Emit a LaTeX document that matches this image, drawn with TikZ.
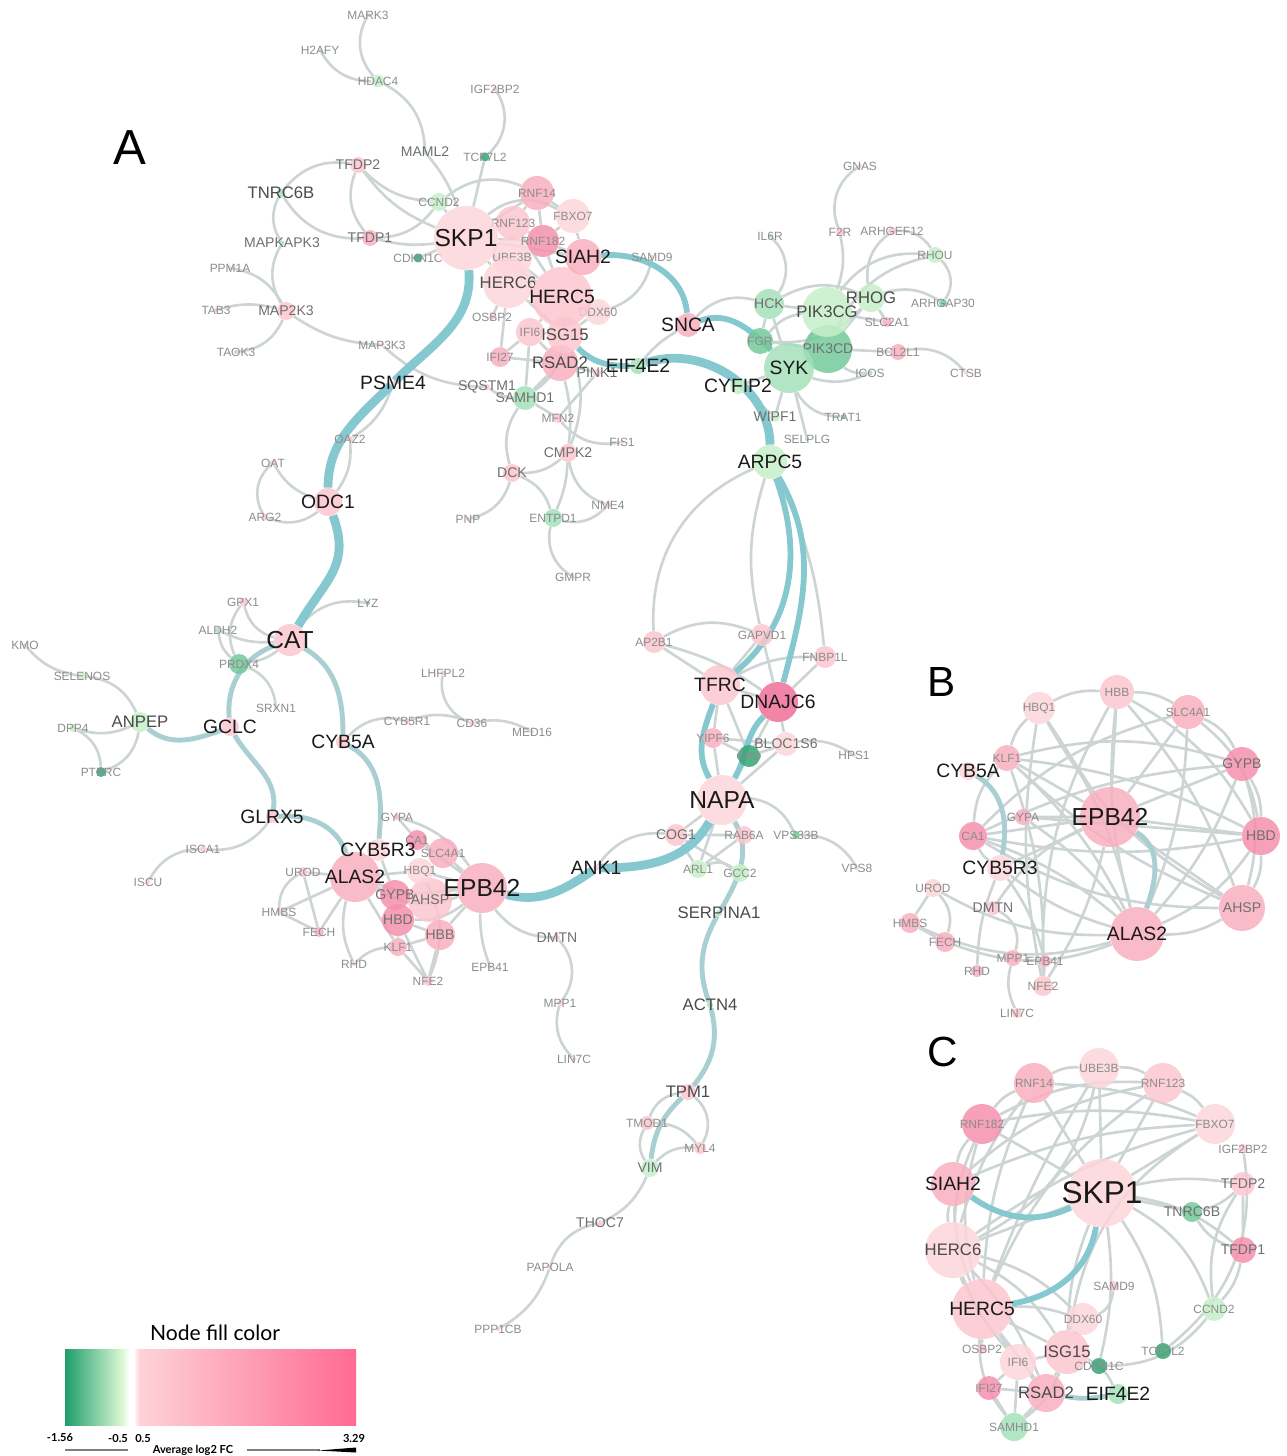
\documentclass[tikz,border=0pt]{standalone}
\usepackage{fontspec}
\setmainfont{Liberation Sans}
\newfontfamily\legendfont{Lato}
\usetikzlibrary{backgrounds}

\definecolor{pk0}{HTML}{FDD6DB}
\definecolor{pk1}{HTML}{FCC5CE}
\definecolor{pk2}{HTML}{F9AFC0}
\definecolor{pk3}{HTML}{F591AD}
\definecolor{pk4}{HTML}{EF6E98}
\definecolor{gn0}{HTML}{C6F0C9}
\definecolor{gn1}{HTML}{A3E0B8}
\definecolor{gn2}{HTML}{73C99A}
\definecolor{gn3}{HTML}{35A574}
\definecolor{edgegray}{HTML}{CDD4D4}
\definecolor{tealA}{HTML}{86C8CF}
\definecolor{tealB}{HTML}{A9CFD2}
\definecolor{lblA}{HTML}{8C8C8C}
\definecolor{lblB}{HTML}{6F6F6F}
\definecolor{lblC}{HTML}{4A4A4A}
\definecolor{lblD}{HTML}{1A1A1A}
\definecolor{scG}{HTML}{1E9E6C}
\definecolor{scL}{HTML}{DDF9D6}
\definecolor{scP}{HTML}{FDD3D6}
\definecolor{scH}{HTML}{FF6A93}
\pgfdeclarehorizontalshading{fcscale}{100bp}{color(0bp)=(scG); color(25bp)=(scG); color(35bp)=(scL); color(36bp)=(white); color(36.8bp)=(white); color(37.8bp)=(scP); color(75bp)=(scH); color(100bp)=(scH)}

\begin{document}
\begin{tikzpicture}[x=0.02cm,y=-0.02cm,
gn/.style n args={4}{circle,inner sep=0pt,minimum size=#1*0.02cm,fill=#2,fill opacity=.85,label={[#3]center:#4}},
t1/.style={text=lblA,text opacity=1,font=\fontsize{6.8}{7}\selectfont},
t2/.style={text=lblB,text opacity=1,font=\fontsize{8}{9}\selectfont},
t3/.style={text=lblC,text opacity=1,font=\fontsize{9.5}{10}\selectfont},
t4/.style={text=lblD,text opacity=1,font=\fontsize{11}{12}\selectfont},
t5/.style={text=lblD,text opacity=1,font=\fontsize{14}{15}\selectfont},
t6/.style={text=lblD,text opacity=1,font=\fontsize{18}{19}\selectfont},
ge/.style={draw=edgegray,line width=1.5pt},
tk/.style={draw=tealA,line width=5pt},
tm/.style={draw=tealA,line width=3.3pt},
tg/.style={draw=tealB,line width=2.8pt},
legtext/.style={font=\legendfont\bfseries\fontsize{6.3}{7}\selectfont}]
\useasboundingbox (0,0) rectangle (1287,1456);

% panel letters
\draw (130,148) node[font=\fontsize{28}{30}\selectfont] (panelA) {A};
\draw (942,682) node[font=\fontsize{24}{26}\selectfont] (panelB) {B};
\draw (943,1052) node[font=\fontsize{24}{26}\selectfont] (panelC) {C};

% ---- panel A: top left
\draw (368,15) node[gn={5}{pk1}{t1}{MARK3}] (aMARK3) {};
\draw (320,50) node[gn={4}{gn0}{t1}{H2AFY}] (aH2AFY) {};
\draw (378,81) node[gn={13}{gn0}{t1}{HDAC4}] (aHDAC4) {};
\draw (495,89) node[gn={5}{pk1}{t1}{IGF2BP2}] (aIGF2BP2) {};
\draw (425,152) node[gn={5}{gn1}{t2}{MAML2}] (aMAML2) {};
\draw (485,157) node[gn={9}{gn3}{t1}{TCF7L2}] (aTCF7L2) {};
\draw (358,165) node[gn={16}{pk1}{t2}{TFDP2}] (aTFDP2) {};
\draw (281,193) node[gn={9}{gn1}{t3}{TNRC6B}] (aTNRC6B) {};
\draw (439,202) node[gn={18}{gn0}{t1}{CCND2}] (aCCND2) {};
\draw (370,238) node[gn={16}{pk2}{t2}{TFDP1}] (aTFDP1) {};
\draw (282,243) node[gn={5}{gn1}{t2}{MAPKAPK3}] (aMAPKAPK3) {};
\draw (418,258) node[gn={9}{gn3}{t1}{CDKN1C}] (aCDKN1C) {};
\draw (230,268) node[gn={4}{pk1}{t1}{PPM1A}] (aPPM1A) {};
\draw (216,310) node[gn={4}{pk1}{t1}{TAB3}] (aTAB3) {};
\draw (286,311) node[gn={18}{pk1}{t2}{MAP2K3}] (aMAP2K3) {};
\draw (236,352) node[gn={4}{gn1}{t1}{TAOK3}] (aTAOK3) {};
\draw (382,345) node[gn={4}{pk1}{t1}{MAP3K3}] (aMAP3K3) {};
\draw (393,383) node[gn={5}{pk1}{t4}{PSME4}] (aPSME4) {};

% ---- panel A: SKP1 cluster
\draw (512,257) node[gn={40}{pk0}{t1}{UBE3B}] (aUBE3B) {};
\draw (508,283) node[gn={50}{pk0}{t3}{HERC6}] (aHERC6) {};
\draw (537,193) node[gn={34}{pk2}{t1}{RNF14}] (aRNF14) {};
\draw (573,216) node[gn={34}{pk0}{t1}{FBXO7}] (aFBXO7) {};
\draw (513,223) node[gn={34}{pk1}{t1}{RNF123}] (aRNF123) {};
\draw (543,241) node[gn={32}{pk3}{t1}{RNF182}] (aRNF182) {};
\draw (598,312) node[gn={26}{pk0}{t1}{DDX60}] (aDDX60) {};
\draw (562,297) node[gn={60}{pk1}{t4}{HERC5}] (aHERC5) {};
\draw (530,332) node[gn={28}{pk1}{t1}{IFI6}] (aIFI6) {};
\draw (500,357) node[gn={20}{pk2}{t1}{IFI27}] (aIFI27) {};
\draw (560,363) node[gn={36}{pk2}{t3}{RSAD2}] (aRSAD2) {};
\draw (565,335) node[gn={36}{pk1}{t3}{ISG15}] (aISG15) {};
\draw (492,317) node[gn={6}{pk1}{t1}{OSBP2}] (aOSBP2) {};
\draw (597,373) node[gn={8}{pk1}{t2}{PINK1}] (aPINK1) {};
\draw (638,366) node[gn={16}{gn1}{t4}{EIF4E2}] (aEIF4E2) {};
\draw (583,257) node[gn={36}{pk2}{t4}{SIAH2}] (aSIAH2) {};
\draw (466,238) node[gn={64}{pk0}{t5}{SKP1}] (aSKP1) {};
\draw (652,257) node[gn={4}{pk1}{t1}{SAMD9}] (aSAMD9) {};
\draw (688,325) node[gn={24}{pk2}{t4}{SNCA}] (aSNCA) {};
\draw (487,387) node[gn={6}{pk1}{t2}{SQSTM1}] (aSQSTM1) {};
\draw (525,398) node[gn={24}{gn1}{t2}{SAMHD1}] (aSAMHD1) {};
\draw (558,418) node[gn={10}{pk1}{t1}{MFN2}] (aMFN2) {};
\draw (622,442) node[gn={4}{pk1}{t1}{FIS1}] (aFIS1) {};
\draw (568,453) node[gn={18}{pk1}{t2}{CMPK2}] (aCMPK2) {};
\draw (512,473) node[gn={18}{pk1}{t2}{DCK}] (aDCK) {};
\draw (468,519) node[gn={4}{pk1}{t1}{PNP}] (aPNP) {};
\draw (553,518) node[gn={18}{gn1}{t1}{ENTPD1}] (aENTPD1) {};
\draw (608,505) node[gn={6}{pk1}{t1}{NME4}] (aNME4) {};
\draw (573,577) node[gn={4}{pk1}{t1}{GMPR}] (aGMPR) {};
\draw (350,439) node[gn={6}{pk1}{t1}{OAZ2}] (aOAZ2) {};
\draw (273,463) node[gn={6}{pk1}{t1}{OAT}] (aOAT) {};
\draw (265,517) node[gn={6}{pk1}{t1}{ARG2}] (aARG2) {};
\draw (328,502) node[gn={28}{pk1}{t4}{ODC1}] (aODC1) {};

% ---- panel A: top right
\draw (860,166) node[gn={4}{pk1}{t1}{GNAS}] (aGNAS) {};
\draw (770,236) node[gn={4}{gn1}{t1}{IL6R}] (aIL6R) {};
\draw (840,232) node[gn={8}{pk1}{t1}{F2R}] (aF2R) {};
\draw (892,231) node[gn={8}{pk1}{t1}{ARHGEF12}] (aARHGEF12) {};
\draw (935,255) node[gn={16}{gn0}{t1}{RHOU}] (aRHOU) {};
\draw (943,303) node[gn={8}{gn2}{t1}{ARHGAP30}] (aARHGAP30) {};
\draw (769,304) node[gn={30}{gn1}{t2}{HCK}] (aHCK) {};
\draw (760,341) node[gn={26}{gn2}{t1}{FGR}] (aFGR) {};
\draw (828,349) node[gn={48}{gn2}{t2}{PIK3CD}] (aPIK3CD) {};
\draw (827,312) node[gn={50}{gn0}{t3}{PIK3CG}] (aPIK3CG) {};
\draw (871,298) node[gn={28}{gn0}{t3}{RHOG}] (aRHOG) {};
\draw (887,322) node[gn={10}{pk2}{t1}{SLC2A1}] (aSLC2A1) {};
\draw (898,352) node[gn={16}{pk2}{t1}{BCL2L1}] (aBCL2L1) {};
\draw (870,373) node[gn={5}{gn1}{t1}{ICOS}] (aICOS) {};
\draw (966,373) node[gn={4}{pk1}{t1}{CTSB}] (aCTSB) {};
\draw (789,368) node[gn={50}{gn1}{t4}{SYK}] (aSYK) {};
\draw (738,386) node[gn={16}{gn0}{t4}{CYFIP2}] (aCYFIP2) {};
\draw (775,417) node[gn={10}{gn0}{t2}{WIPF1}] (aWIPF1) {};
\draw (843,417) node[gn={5}{gn2}{t1}{TRAT1}] (aTRAT1) {};
\draw (807,439) node[gn={4}{gn1}{t1}{SELPLG}] (aSELPLG) {};
\draw (770,462) node[gn={34}{gn0}{t4}{ARPC5}] (aARPC5) {};

% ---- panel A: right middle
\draw (654,642) node[gn={22}{pk1}{t1}{AP2B1}] (aAP2B1) {};
\draw (762,635) node[gn={22}{pk1}{t1}{GAPVD1}] (aGAPVD1) {};
\draw (825,657) node[gn={22}{pk1}{t1}{FNBP1L}] (aFNBP1L) {};
\draw (713,738) node[gn={20}{pk2}{t1}{YIPF6}] (aYIPF6) {};
\draw (749,756) node[gn={22}{gn3}{t1}{CPD}] (aCPD) {};
\draw (786,744) node[gn={24}{pk0}{t2}{BLOC1S6}] (aBLOC1S6) {};
\draw (854,755) node[gn={4}{pk1}{t1}{HPS1}] (aHPS1) {};
\draw (720,685) node[gn={40}{pk1}{t4}{TFRC}] (aTFRC) {};
\draw (778,702) node[gn={40}{pk4}{t4}{DNAJC6}] (aDNAJC6) {};
\draw (676,835) node[gn={22}{pk1}{t2}{COG1}] (aCOG1) {};
\draw (744,835) node[gn={18}{pk1}{t1}{RAB6A}] (aRAB6A) {};
\draw (796,835) node[gn={8}{gn2}{t1}{VPS33B}] (aVPS33B) {};
\draw (698,869) node[gn={18}{gn0}{t1}{ARL1}] (aARL1) {};
\draw (740,873) node[gn={18}{gn0}{t1}{GCC2}] (aGCC2) {};
\draw (857,868) node[gn={4}{pk1}{t1}{VPS8}] (aVPS8) {};
\draw (722,800) node[gn={50}{pk0}{t5}{NAPA}] (aNAPA) {};
\draw (596,868) node[gn={6}{pk1}{t4}{ANK1}] (aANK1) {};
\draw (719,913) node[gn={6}{gn1}{t3}{SERPINA1}] (aSERPINA1) {};
\draw (710,1005) node[gn={6}{gn1}{t3}{ACTN4}] (aACTN4) {};
\draw (647,1123) node[gn={14}{pk1}{t1}{TMOD1}] (aTMOD1) {};
\draw (700,1148) node[gn={12}{pk1}{t1}{MYL4}] (aMYL4) {};
\draw (650,1168) node[gn={18}{gn0}{t2}{VIM}] (aVIM) {};
\draw (688,1092) node[gn={16}{pk1}{t3}{TPM1}] (aTPM1) {};
\draw (600,1223) node[gn={6}{pk1}{t2}{THOC7}] (aTHOC7) {};
\draw (550,1267) node[gn={5}{pk1}{t1}{PAPOLA}] (aPAPOLA) {};
\draw (498,1329) node[gn={4}{pk1}{t1}{PPP1CB}] (aPPP1CB) {};
\draw (557,938) node[gn={6}{pk1}{t2}{DMTN}] (aDMTN) {};
\draw (560,1003) node[gn={6}{pk1}{t1}{MPP1}] (aMPP1) {};
\draw (574,1059) node[gn={4}{pk1}{t1}{LIN7C}] (aLIN7C) {};
\draw (490,967) node[gn={4}{pk1}{t1}{EPB41}] (aEPB41) {};

% ---- panel A: left
\draw (443,673) node[gn={5}{pk1}{t1}{LHFPL2}] (aLHFPL2) {};
\draw (407,721) node[gn={6}{pk1}{t1}{CYB5R1}] (aCYB5R1) {};
\draw (472,723) node[gn={6}{pk1}{t1}{CD36}] (aCD36) {};
\draw (532,732) node[gn={4}{pk1}{t1}{MED16}] (aMED16) {};
\draw (243,602) node[gn={8}{pk1}{t1}{GPX1}] (aGPX1) {};
\draw (368,603) node[gn={4}{gn2}{t1}{LYZ}] (aLYZ) {};
\draw (218,630) node[gn={6}{gn1}{t1}{ALDH2}] (aALDH2) {};
\draw (239,664) node[gn={20}{gn2}{t1}{PRDX4}] (aPRDX4) {};
\draw (276,708) node[gn={4}{pk1}{t1}{SRXN1}] (aSRXN1) {};
\draw (290,640) node[gn={32}{pk1}{t5}{CAT}] (aCAT) {};
\draw (230,727) node[gn={18}{pk1}{t4}{GCLC}] (aGCLC) {};
\draw (343,742) node[gn={14}{pk1}{t4}{CYB5A}] (aCYB5A) {};
\draw (25,645) node[gn={4}{pk1}{t1}{KMO}] (aKMO) {};
\draw (82,676) node[gn={8}{gn0}{t1}{SELENOS}] (aSELENOS) {};
\draw (73,728) node[gn={8}{gn0}{t1}{DPP4}] (aDPP4) {};
\draw (101,772) node[gn={10}{gn3}{t1}{PTPRC}] (aPTPRC) {};
\draw (140,722) node[gn={20}{gn0}{t3}{ANPEP}] (aANPEP) {};
\draw (272,817) node[gn={12}{pk1}{t4}{GLRX5}] (aGLRX5) {};
\draw (203,849) node[gn={6}{pk1}{t1}{ISCA1}] (aISCA1) {};
\draw (148,882) node[gn={4}{pk1}{t1}{ISCU}] (aISCU) {};

% ---- panel A: erythroid cluster
\draw (430,900) node[gn={44}{pk1}{t2}{AHSP}] (aAHSP) {};
\draw (443,853) node[gn={30}{pk2}{t1}{SLC4A1}] (aSLC4A1) {};
\draw (420,871) node[gn={26}{pk0}{t1}{HBQ1}] (aHBQ1) {};
\draw (417,840) node[gn={20}{pk3}{t1}{CA1}] (aCA1) {};
\draw (397,817) node[gn={6}{pk2}{t1}{GYPA}] (aGYPA) {};
\draw (398,920) node[gn={32}{pk3}{t2}{HBD}] (aHBD) {};
\draw (440,935) node[gn={30}{pk2}{t2}{HBB}] (aHBB) {};
\draw (398,947) node[gn={18}{pk2}{t1}{KLF1}] (aKLF1) {};
\draw (303,872) node[gn={10}{pk1}{t1}{UROD}] (aUROD) {};
\draw (279,912) node[gn={6}{pk1}{t1}{HMBS}] (aHMBS) {};
\draw (319,932) node[gn={10}{pk2}{t1}{FECH}] (aFECH) {};
\draw (354,964) node[gn={4}{pk1}{t1}{RHD}] (aRHD) {};
\draw (428,981) node[gn={10}{pk1}{t1}{NFE2}] (aNFE2) {};
\draw (355,877) node[gn={50}{pk2}{t4}{ALAS2}] (aALAS2) {};
\draw (395,895) node[gn={30}{pk3}{t2}{GYPB}] (aGYPB) {};
\draw (378,850) node[gn={22}{pk0}{t4}{CYB5R3}] (aCYB5R3) {};
\draw (482,888) node[gn={50}{pk2}{t5}{EPB42}] (aEPB42) {};

% ---- panel B
\draw (1117,692) node[gn={34}{pk1}{t1}{HBB}] (bHBB) {};
\draw (1039,708) node[gn={32}{pk0}{t1}{HBQ1}] (bHBQ1) {};
\draw (1188,712) node[gn={34}{pk2}{t1}{SLC4A1}] (bSLC4A1) {};
\draw (1007,758) node[gn={26}{pk2}{t1}{KLF1}] (bKLF1) {};
\draw (1242,764) node[gn={34}{pk3}{t2}{GYPB}] (bGYPB) {};
\draw (1023,817) node[gn={16}{pk2}{t1}{GYPA}] (bGYPA) {};
\draw (973,836) node[gn={28}{pk3}{t1}{CA1}] (bCA1) {};
\draw (1261,836) node[gn={38}{pk3}{t2}{HBD}] (bHBD) {};
\draw (1242,908) node[gn={46}{pk2}{t2}{AHSP}] (bAHSP) {};
\draw (933,888) node[gn={18}{pk0}{t1}{UROD}] (bUROD) {};
\draw (993,908) node[gn={14}{pk1}{t2}{DMTN}] (bDMTN) {};
\draw (910,923) node[gn={20}{pk2}{t1}{HMBS}] (bHMBS) {};
\draw (945,942) node[gn={20}{pk2}{t1}{FECH}] (bFECH) {};
\draw (1013,958) node[gn={16}{pk2}{t1}{MPP1}] (bMPP1) {};
\draw (1045,961) node[gn={12}{pk2}{t1}{EPB41}] (bEPB41) {};
\draw (977,971) node[gn={12}{pk2}{t1}{RHD}] (bRHD) {};
\draw (1043,986) node[gn={20}{pk1}{t1}{NFE2}] (bNFE2) {};
\draw (1017,1013) node[gn={10}{pk1}{t1}{LIN7C}] (bLIN7C) {};
\draw (968,771) node[gn={18}{pk0}{t4}{CYB5A}] (bCYB5A) {};
\draw (1000,868) node[gn={26}{pk0}{t4}{CYB5R3}] (bCYB5R3) {};
\draw (1137,934) node[gn={54}{pk2}{t4}{ALAS2}] (bALAS2) {};
\draw (1110,817) node[gn={60}{pk2}{t5}{EPB42}] (bEPB42) {};

% ---- panel C
\draw (1099,1068) node[gn={40}{pk0}{t1}{UBE3B}] (cUBE3B) {};
\draw (1034,1083) node[gn={40}{pk2}{t1}{RNF14}] (cRNF14) {};
\draw (1163,1083) node[gn={40}{pk1}{t1}{RNF123}] (cRNF123) {};
\draw (982,1124) node[gn={40}{pk3}{t1}{RNF182}] (cRNF182) {};
\draw (1215,1124) node[gn={40}{pk0}{t1}{FBXO7}] (cFBXO7) {};
\draw (1243,1149) node[gn={10}{pk1}{t1}{IGF2BP2}] (cIGF2BP2) {};
\draw (1243,1184) node[gn={24}{pk1}{t2}{TFDP2}] (cTFDP2) {};
\draw (1192,1212) node[gn={20}{gn2}{t2}{TNRC6B}] (cTNRC6B) {};
\draw (1243,1250) node[gn={26}{pk3}{t2}{TFDP1}] (cTFDP1) {};
\draw (953,1250) node[gn={56}{pk0}{t3}{HERC6}] (cHERC6) {};
\draw (1114,1286) node[gn={10}{pk1}{t1}{SAMD9}] (cSAMD9) {};
\draw (1214,1309) node[gn={24}{gn0}{t1}{CCND2}] (cCCND2) {};
\draw (1083,1319) node[gn={32}{pk0}{t1}{DDX60}] (cDDX60) {};
\draw (982,1349) node[gn={10}{pk1}{t1}{OSBP2}] (cOSBP2) {};
\draw (1018,1362) node[gn={36}{pk0}{t1}{IFI6}] (cIFI6) {};
\draw (1163,1351) node[gn={16}{gn3}{t1}{TCF7L2}] (cTCF7L2) {};
\draw (989,1388) node[gn={24}{pk3}{t1}{IFI27}] (cIFI27) {};
\draw (1014,1427) node[gn={28}{gn1}{t1}{SAMHD1}] (cSAMHD1) {};
\draw (1046,1393) node[gn={38}{pk2}{t3}{RSAD2}] (cRSAD2) {};
\draw (1067,1352) node[gn={44}{pk1}{t3}{ISG15}] (cISG15) {};
\draw (1099,1366) node[gn={16}{gn3}{t1}{CDKN1C}] (cCDKN1C) {};
\draw (1118,1394) node[gn={20}{gn1}{t4}{EIF4E2}] (cEIF4E2) {};
\draw (953,1184) node[gn={44}{pk2}{t4}{SIAH2}] (cSIAH2) {};
\draw (982,1309) node[gn={60}{pk1}{t4}{HERC5}] (cHERC5) {};
\draw (1102,1193) node[gn={68}{pk0}{t6}{SKP1}] (cSKP1) {};

\begin{scope}[on background layer]
% panel A, grey edges
\draw[ge] (aMARK3) to[bend right=35] (aHDAC4);
\draw[ge] (aH2AFY) to[bend right=30] (aHDAC4);
\draw[ge] (aHDAC4) to[bend left=30] (aMAML2);
\draw[ge] (aMAML2) to[bend left=10] (aSKP1);
\draw[ge] (aIGF2BP2) to[bend left=40] (aTCF7L2);
\draw[ge] (aTCF7L2) -- (aSKP1);
\draw[ge] (aTFDP2) to[bend right=30] (aTNRC6B);
\draw[ge] (aTNRC6B) to[bend right=30] (aTFDP1);
\draw[ge] (aTFDP2) to[bend right=15] (aSKP1);
\draw[ge] (aTFDP2) to[bend right=20] (aCCND2);
\draw[ge] (aTFDP2) to[bend right=30] (aTFDP1);
\draw[ge] (aTFDP1) to[bend right=25] (aCCND2);
\draw[ge] (aTFDP1) to[bend right=10] (aSKP1);
\draw[ge] (aCDKN1C) -- (aSKP1);
\draw[ge] (aCCND2) -- (aSKP1);
\draw[ge] (aCCND2) to[bend left=30] (aRNF14);
\draw[ge] (aTNRC6B) to[bend right=30] (aMAPKAPK3);
\draw[ge] (aMAPKAPK3) to[bend right=30] (aMAP2K3);
\draw[ge] (aPPM1A) to[bend left=25] (aMAP2K3);
\draw[ge] (aTAB3) to[bend left=15] (aMAP2K3);
\draw[ge] (aTAOK3) to[bend right=30] (aMAP2K3);
\draw[ge] (aMAP2K3) to[bend right=15] (aMAP3K3);
\draw[ge] (aMAP3K3) to[bend right=20] (aSQSTM1);
\draw[ge] (aSKP1) -- (aRNF14) (aSKP1) -- (aRNF123) (aSKP1) -- (aRNF182) (aSKP1) -- (aSIAH2);
\draw[ge] (aSKP1) to[bend left=35] (aFBXO7) (aSKP1) -- (aUBE3B) (aSKP1) -- (aHERC6) (aSKP1) -- (aHERC5);
\draw[ge] (aRNF14) -- (aRNF123) (aRNF14) -- (aFBXO7) (aRNF14) -- (aRNF182) (aRNF123) -- (aRNF182);
\draw[ge] (aFBXO7) -- (aRNF182) (aFBXO7) -- (aSIAH2) (aRNF182) -- (aSIAH2) (aRNF182) -- (aHERC5);
\draw[ge] (aUBE3B) -- (aHERC5) (aRNF123) -- (aHERC5) (aHERC6) -- (aHERC5) (aHERC5) -- (aISG15);
\draw[ge] (aHERC5) -- (aDDX60) (aHERC6) -- (aISG15) (aHERC5) -- (aIFI6) (aISG15) -- (aIFI6);
\draw[ge] (aISG15) -- (aRSAD2) (aIFI6) -- (aRSAD2) (aIFI27) -- (aRSAD2) (aIFI27) -- (aIFI6);
\draw[ge] (aDDX60) -- (aISG15) (aOSBP2) -- (aHERC6) (aRSAD2) -- (aPINK1) (aHERC6) -- (aIFI27);
\draw[ge] (aSAMD9) to[bend left=30] (aDDX60);
\draw[ge] (aSNCA) to[bend right=10] (aEIF4E2);
\draw[ge] (aSQSTM1) to[bend right=15] (aSAMHD1);
\draw[ge] (aSAMHD1) -- (aIFI6) (aSAMHD1) -- (aRSAD2) (aSAMHD1) to[bend right=20] (aISG15) (aSAMHD1) -- (aMFN2);
\draw[ge] (aMFN2) -- (aPINK1);
\draw[ge] (aMFN2) to[bend right=30] (aFIS1);
\draw[ge] (aSAMHD1) to[bend right=25] (aDCK);
\draw[ge] (aRSAD2) to[bend left=10] (aCMPK2);
\draw[ge] (aISG15) to[bend left=20] (aCMPK2);
\draw[ge] (aCMPK2) to[bend left=20] (aDCK);
\draw[ge] (aCMPK2) to[bend right=30] (aNME4);
\draw[ge] (aCMPK2) to[bend left=10] (aENTPD1);
\draw[ge] (aDCK) to[bend left=25] (aENTPD1);
\draw[ge] (aDCK) to[bend left=30] (aPNP);
\draw[ge] (aENTPD1) to[bend right=30] (aNME4);
\draw[ge] (aENTPD1) to[bend right=35] (aGMPR);
\draw[ge] (aOAZ2) to[bend left=20] (aODC1);
\draw[ge] (aOAZ2) to[bend right=20] (aPSME4);
\draw[ge] (aOAT) to[bend right=20] (aODC1);
\draw[ge] (aOAT) to[bend right=40] (aARG2);
\draw[ge] (aARG2) to[bend right=30] (aODC1);
\draw[ge] (aGNAS) to[bend right=40] (aF2R);
\draw[ge] (aF2R) to[bend left=15] (aPIK3CG);
\draw[ge] (aIL6R) to[bend left=40] (aHCK);
\draw[ge] (aARHGEF12) to[bend right=30] (aRHOG);
\draw[ge] (aARHGEF12) to[bend left=30] (aRHOU);
\draw[ge] (aRHOU) to[bend left=40] (aARHGAP30);
\draw[ge] (aRHOU) to[bend right=30] (aPIK3CG);
\draw[ge] (aRHOU) to[bend right=25] (aPIK3CD);
\draw[ge] (aRHOG) to[bend left=25] (aARHGAP30);
\draw[ge] (aSNCA) to[bend left=30] (aHCK);
\draw[ge] (aHCK) -- (aPIK3CG) (aHCK) -- (aSYK) (aHCK) -- (aFGR) (aPIK3CG) -- (aSYK) (aPIK3CG) -- (aPIK3CD);
\draw[ge] (aPIK3CD) -- (aSYK) (aFGR) -- (aSYK) (aFGR) -- (aPIK3CD) (aFGR) to[bend left=20] (aPIK3CG);
\draw[ge] (aPIK3CD) -- (aBCL2L1) (aSLC2A1) -- (aPIK3CG) (aRHOG) -- (aSLC2A1) (aRHOG) -- (aPIK3CD);
\draw[ge] (aHCK) to[bend left=25] (aRHOG) (aFGR) to[bend right=25] (aRHOG);
\draw[ge] (aBCL2L1) to[bend left=30] (aCTSB);
\draw[ge] (aPIK3CD) to[bend right=20] (aICOS);
\draw[ge] (aSYK) to[bend right=20] (aICOS);
\draw[ge] (aSYK) to[bend right=30] (aTRAT1);
\draw[ge] (aSYK) -- (aSELPLG) (aSYK) -- (aWIPF1) (aSYK) -- (aCYFIP2) (aCYFIP2) -- (aWIPF1);
\draw[ge] (aARPC5) to[bend right=35] (aAP2B1);
\draw[ge] (aARPC5) to[bend right=15] (aGAPVD1);
\draw[ge] (aARPC5) to[bend left=10] (aFNBP1L);
\draw[ge] (aAP2B1) to[bend left=25] (aGAPVD1);
\draw[ge] (aAP2B1) -- (aTFRC) (aAP2B1) to[bend left=10] (aDNAJC6) (aGAPVD1) -- (aTFRC) (aGAPVD1) -- (aDNAJC6);
\draw[ge] (aFNBP1L) -- (aDNAJC6) (aFNBP1L) to[bend right=15] (aTFRC) (aTFRC) -- (aDNAJC6) (aTFRC) -- (aYIPF6);
\draw[ge] (aYIPF6) -- (aCPD) (aYIPF6) -- (aBLOC1S6) (aBLOC1S6) -- (aCPD) (aBLOC1S6) -- (aNAPA);
\draw[ge] (aCPD) -- (aNAPA) (aYIPF6) -- (aNAPA) (aDNAJC6) -- (aBLOC1S6) (aDNAJC6) -- (aCPD) (aTFRC) -- (aCPD);
\draw[ge] (aBLOC1S6) to[bend left=20] (aHPS1);
\draw[ge] (aNAPA) -- (aCOG1) (aNAPA) -- (aRAB6A) (aCOG1) -- (aARL1) (aCOG1) -- (aGCC2);
\draw[ge] (aRAB6A) -- (aARL1) (aRAB6A) -- (aGCC2) (aCOG1) -- (aRAB6A) (aNAPA) -- (aARL1);
\draw[ge] (aNAPA) to[bend left=30] (aVPS33B);
\draw[ge] (aVPS33B) to[bend left=30] (aVPS8);
\draw[ge] (aARL1) to[bend left=30] (aGCC2);
\draw[ge] (aCOG1) to[bend right=30] (aANK1);
\draw[ge] (aTPM1) to[bend right=30] (aTMOD1);
\draw[ge] (aTPM1) to[bend left=40] (aMYL4);
\draw[ge] (aTMOD1) to[bend left=25] (aMYL4);
\draw[ge] (aTMOD1) to[bend right=30] (aVIM);
\draw[ge] (aMYL4) to[bend right=25] (aVIM);
\draw[ge] (aVIM) to[bend left=20] (aTHOC7);
\draw[ge] (aTHOC7) to[bend right=30] (aPAPOLA);
\draw[ge] (aPAPOLA) to[bend left=20] (aPPP1CB);
\draw[ge] (aEPB42) to[bend right=25] (aDMTN);
\draw[ge] (aDMTN) to[bend left=40] (aMPP1);
\draw[ge] (aMPP1) to[bend right=30] (aLIN7C);
\draw[ge] (aEPB42) to[bend right=10] (aEPB41);
\draw[ge] (aALAS2) -- (aUROD) (aALAS2) -- (aHMBS) (aALAS2) -- (aFECH) (aUROD) -- (aFECH);
\draw[ge] (aUROD) to[bend right=30] (aHMBS) (aHMBS) -- (aFECH) (aALAS2) -- (aKLF1) (aKLF1) -- (aNFE2);
\draw[ge] (aHBD) -- (aNFE2) (aHBB) -- (aNFE2) (aALAS2) to[bend right=20] (aRHD) (aALAS2) -- (aCYB5R3);
\draw[ge] (aALAS2) -- (aGYPB) (aALAS2) -- (aHBQ1) (aALAS2) -- (aAHSP) (aALAS2) to[bend right=25] (aEPB42);
\draw[ge] (aGYPB) -- (aEPB42) (aAHSP) -- (aEPB42) (aHBB) -- (aEPB42) (aHBD) to[bend right=20] (aEPB42);
\draw[ge] (aSLC4A1) -- (aEPB42) (aCA1) -- (aEPB42) (aHBQ1) -- (aEPB42) (aGYPA) to[bend left=20] (aEPB42);
\draw[ge] (aGYPA) -- (aCA1) (aCA1) -- (aSLC4A1) (aHBD) -- (aHBB) (aHBD) -- (aAHSP) (aHBB) -- (aAHSP);
\draw[ge] (aGYPB) -- (aHBD) (aGYPB) -- (aAHSP) (aHBQ1) -- (aAHSP) (aKLF1) -- (aHBB) (aKLF1) -- (aHBD);
\draw[ge] (aCYB5R3) -- (aGYPB) (aKLF1) to[bend right=20] (aRHD) (aHBQ1) to[bend left=25] (aNFE2);
\draw[ge] (aGLRX5) to[bend left=30] (aISCA1);
\draw[ge] (aISCA1) to[bend right=30] (aISCU);
\draw[ge] (aCAT) to[bend left=30] (aGPX1);
\draw[ge] (aCAT) to[bend left=15] (aALDH2);
\draw[ge] (aCAT) to[bend left=15] (aPRDX4);
\draw[ge] (aCAT) to[bend left=30] (aLYZ);
\draw[ge] (aPRDX4) to[bend left=30] (aSRXN1);
\draw[ge] (aPRDX4) to[bend left=20] (aALDH2);
\draw[ge] (aGPX1) to[bend right=30] (aPRDX4);
\draw[ge] (aANPEP) to[bend right=30] (aSELENOS);
\draw[ge] (aSELENOS) to[bend left=20] (aKMO);
\draw[ge] (aANPEP) to[bend left=20] (aDPP4);
\draw[ge] (aANPEP) to[bend left=30] (aPTPRC);
\draw[ge] (aDPP4) to[bend left=30] (aPTPRC);
\draw[ge] (aCYB5A) to[bend left=30] (aCYB5R1);
\draw[ge] (aCYB5R1) to[bend left=20] (aCD36);
\draw[ge] (aLHFPL2) to[bend right=40] (aCD36);
\draw[ge] (aCD36) to[bend left=20] (aMED16);
% panel A, teal edges
\draw[tk] (aSKP1) to[out=-85,in=45] (aPSME4);
\draw[tk] (aPSME4) to[out=-135,in=90] (aODC1);
\draw[tk] (aODC1) to[out=-70,in=60,looseness=1.2] (aCAT);
\draw[tk] (aNAPA) to[out=-120,in=0] (aANK1);
\draw[tk] (aANK1) to[out=-145,in=-15] (aEPB42);
\draw[tm] (aSIAH2) to[out=5,in=95] (aSNCA);
\draw[tm] (aSNCA) to[out=20,in=135] (aSYK);
\draw[tm] (aISG15) to[out=-45,in=180] (aEIF4E2);
\draw[tk] (aEIF4E2) to[out=20,in=90] (aARPC5);
\draw[tm] (aARPC5) to[out=-70,in=40] (aTFRC);
\draw[tm] (aARPC5) to[out=-60,in=75] (aDNAJC6);
\draw[tm] (aDNAJC6) to[out=-135,in=60] (aNAPA);
\draw[tm] (aTFRC) to[out=-110,in=120] (aNAPA);
\draw[tg] (aNAPA) to[out=-60,in=60] (aSERPINA1);
\draw[tg] (aSERPINA1) to[out=-120,in=110] (aACTN4);
\draw[tg] (aACTN4) to[out=-75,in=50] (aTPM1);
\draw[tg] (aTPM1) to[bend right=20] (aVIM);
\draw[tg] (aCAT) to[out=-160,in=95] (aGCLC);
\draw[tg] (aGCLC) to[out=-60,in=80] (aGLRX5);
\draw[tg] (aGLRX5) to[out=5,in=110] (aALAS2);
\draw[tg] (aANPEP) to[out=-40,in=-160] (aGCLC);
\draw[tg] (aCAT) to[out=-30,in=90] (aCYB5A);
\draw[tg] (aCYB5A) to[out=-30,in=85] (aCYB5R3);

% panel B
\draw[ge] (bEPB42) -- (bHBB) (bEPB42) -- (bHBQ1) (bEPB42) -- (bSLC4A1) (bEPB42) -- (bKLF1) (bEPB42) -- (bGYPB);
\draw[ge] (bEPB42) -- (bGYPA) (bEPB42) -- (bCA1) (bEPB42) -- (bHBD) (bEPB42) -- (bCYB5R3) (bEPB42) -- (bAHSP);
\draw[ge] (bEPB42) to[bend right=15] (bDMTN) (bEPB42) to[bend left=10] (bNFE2);
\draw[ge] (bHBQ1) to[bend left=15] (bHBB) (bHBB) to[bend left=15] (bSLC4A1) (bSLC4A1) to[bend left=20] (bGYPB);
\draw[ge] (bGYPB) to[bend left=15] (bHBD) (bHBD) to[bend left=15] (bAHSP) (bAHSP) to[bend left=15] (bALAS2);
\draw[ge] (bALAS2) to[bend left=10] (bCYB5R3) (bCYB5R3) to[bend left=15] (bCA1) (bCA1) to[bend left=20] (bKLF1) (bKLF1) to[bend left=15] (bHBQ1);
\draw[ge] (bHBQ1) to[bend right=15] (bAHSP) (bHBB) to[bend right=10] (bALAS2) (bHBB) to[bend left=15] (bHBD) (bHBB) to[bend left=10] (bAHSP);
\draw[ge] (bSLC4A1) to[bend left=10] (bALAS2) (bSLC4A1) to[bend right=15] (bCA1) (bSLC4A1) to[bend left=20] (bHBD);
\draw[ge] (bGYPB) to[bend right=10] (bCA1) (bGYPB) to[bend left=10] (bALAS2) (bGYPB) to[bend right=15] (bKLF1) (bGYPB) to[bend left=15] (bAHSP);
\draw[ge] (bHBD) to[bend right=10] (bKLF1) (bHBD) to[bend left=10] (bCA1) (bHBD) to[bend left=15] (bALAS2);
\draw[ge] (bAHSP) to[bend left=10] (bKLF1) (bAHSP) to[bend left=15] (bCA1) (bALAS2) to[bend right=10] (bKLF1) (bALAS2) to[bend right=10] (bHBQ1);
\draw[ge] (bALAS2) to[bend left=15] (bUROD) (bALAS2) to[bend left=20] (bHMBS) (bFECH) to[bend right=20] (bALAS2) (bALAS2) to[bend right=10] (bCA1);
\draw[ge] (bUROD) -- (bHMBS) (bUROD) to[bend left=30] (bFECH) (bHMBS) -- (bFECH) (bCYB5R3) to[bend right=10] (bRHD);
\draw[ge] (bDMTN) to[bend left=40] (bMPP1) (bMPP1) to[bend right=20] (bLIN7C) (bKLF1) to[bend left=10] (bNFE2) (bHBB) to[bend right=15] (bNFE2);
\draw[ge] (bHBQ1) to[bend right=10] (bNFE2) (bEPB41) -- (bNFE2) (bGYPA) to[bend left=10] (bALAS2) (bGYPA) -- (bHBD) (bCYB5R3) to[bend left=10] (bEPB41);
\draw[tg] (bCYB5A) to[out=-30,in=80] (bCYB5R3);
\draw[tg] (bEPB42) to[out=-30,in=70] (bALAS2);

% panel C
\draw[ge] (cSKP1) -- (cRNF14) (cSKP1) -- (cUBE3B) (cSKP1) -- (cRNF123) (cSKP1) -- (cRNF182) (cSKP1) -- (cFBXO7);
\draw[ge] (cSKP1) -- (cHERC6) (cSKP1) to[bend left=10] (cTFDP2) (cSKP1) -- (cTNRC6B) (cSKP1) to[bend left=15] (cTFDP1);
\draw[ge] (cSKP1) to[bend left=20] (cCCND2) (cSKP1) to[bend left=15] (cTCF7L2) (cSKP1) to[bend left=10] (cCDKN1C) (cSKP1) to[bend right=10] (cISG15);
\draw[ge] (cRNF14) to[bend left=15] (cUBE3B) (cUBE3B) to[bend left=15] (cRNF123) (cRNF123) to[bend left=15] (cFBXO7) (cRNF14) to[bend right=15] (cRNF182);
\draw[ge] (cRNF182) to[bend right=15] (cSIAH2) (cSIAH2) to[bend right=10] (cHERC6) (cHERC6) to[bend right=10] (cHERC5) (cRNF14) to[bend left=10] (cFBXO7);
\draw[ge] (cRNF182) to[bend left=10] (cFBXO7) (cRNF182) to[bend left=15] (cRNF123) (cSIAH2) to[bend left=10] (cFBXO7) (cSIAH2) to[bend left=15] (cRNF123);
\draw[ge] (cHERC6) to[bend left=10] (cRNF14) (cHERC5) to[bend left=10] (cRNF14) (cHERC5) to[bend left=15] (cRNF182) (cHERC5) to[bend left=5] (cUBE3B);
\draw[ge] (cHERC6) to[bend left=10] (cFBXO7) (cHERC5) -- (cISG15) (cHERC5) -- (cIFI6) (cHERC5) -- (cRSAD2) (cHERC5) to[bend left=10] (cDDX60);
\draw[ge] (cHERC6) to[bend left=15] (cISG15) (cHERC6) to[bend right=10] (cIFI6) (cHERC6) to[bend left=10] (cRSAD2) (cHERC6) to[bend left=15] (cDDX60);
\draw[ge] (cISG15) -- (cIFI6) (cISG15) -- (cRSAD2) (cIFI6) -- (cRSAD2) (cIFI27) -- (cIFI6) (cIFI27) -- (cRSAD2);
\draw[ge] (cSAMHD1) -- (cIFI6) (cSAMHD1) -- (cRSAD2) (cSAMHD1) to[bend right=15] (cISG15) (cSAMHD1) to[bend left=20] (cHERC5) (cSAMHD1) -- (cIFI27);
\draw[ge] (cDDX60) -- (cISG15) (cDDX60) to[bend right=30] (cSAMD9) (cEIF4E2) to[bend right=20] (cISG15) (cOSBP2) -- (cHERC5) (cSIAH2) to[bend right=10] (cHERC5);
\draw[ge] (cTFDP2) to[bend left=15] (cTNRC6B) (cTFDP2) -- (cTFDP1) (cTFDP1) to[bend left=20] (cTNRC6B) (cTFDP1) to[bend left=15] (cCCND2) (cTFDP2) to[bend right=20] (cCCND2);
\draw[ge] (cIGF2BP2) to[bend left=30] (cTCF7L2) (cCDKN1C) to[bend right=25] (cCCND2) (cRNF182) to[bend right=10] (cHERC6) (cFBXO7) to[bend right=25] (cISG15);
\draw[ge] (cRNF123) to[bend right=15] (cHERC5) (cUBE3B) to[bend left=25] (cHERC6);
\draw[tm] (cSKP1) to[out=-155,in=-35] (cSIAH2);
\draw[tm] (cSKP1) to[out=-100,in=10] (cHERC5);
\draw[tg] (cRSAD2) to[out=-10,in=-170] (cEIF4E2);
\end{scope}

% legend
\draw (215,1333) node[font=\legendfont\fontsize{12}{13}\selectfont] (legtitle) {Node fill color};
\shade[shading=fcscale] (65,1349) rectangle (356,1425);
\draw (60,1438) node[legtext] (legmin) {-1.56};
\draw (118,1438) node[legtext] (legneg) {-0.5};
\draw (143,1438) node[legtext] (legpos) {0.5};
\draw (354,1438) node[legtext] (legmax) {3.29};
\draw (193,1450) node[legtext] (legaxis) {Average log2 FC};
\draw[gray,line width=0.7pt] (65,1450) -- (128,1450);
\draw[gray,line width=0.7pt] (legaxis.east) ++(8,0) -- (320,1450);
\fill (318,1450.5) -- (356,1447.5) -- (356,1452.5) -- cycle;
\end{tikzpicture}
\end{document}
